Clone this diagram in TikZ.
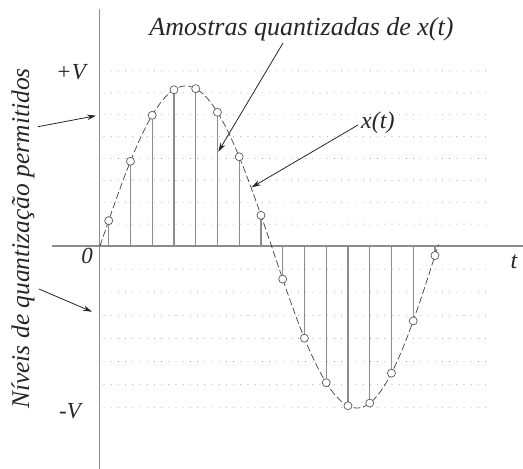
\documentclass[tikz,border=0pt]{standalone}
\usepackage{fontspec}
\setmainfont{Liberation Serif}
\usetikzlibrary{arrows.meta}
\pgfmathdeclarefunction{sig}{1}{%
  \pgfmathparse{(#1<271.5) ? (246-160*sin((#1-100)/171.5*180)) : ((#1<357) ? (246+162*sin((#1-271.5)/85.5*90)) : (246+162*sin(90+(#1-357)/81*90)))}%
}
\tikzset{
  axisline/.style={draw=black!45, line width=1.4pt},
  levelline/.style={draw=black!45, line width=0.9pt, line cap=round, dash pattern=on 0pt off 7.2pt},
  stemline/.style={draw=black!45, line width=1.2pt},
  sampledot/.style={circle, draw=black!65, fill=white, line width=0.7pt, minimum size=8pt, inner sep=0pt},
  sigcurve/.style={draw=black!75, line width=0.7pt, dash pattern=on 7pt off 3pt},
  pointer/.style={draw=black!85, line width=0.8pt, -{Stealth[length=9pt,width=5.5pt]}},
  lbl/.style={font=\fontsize{23}{27}\selectfont\itshape, text=black!85, inner sep=0pt},
}
\begin{document}
\begin{tikzpicture}[x=1pt,y=-1pt]
\useasboundingbox (0,0) rectangle (523,469);
% quantization levels
\foreach \k in {1,...,8} \draw[levelline] (104,{246-\k*21.875}) -- (489,{246-\k*21.875});
\foreach \k in {1,...,7} \draw[levelline] (104,{246+\k*23.1}) -- (489,{246+\k*23.1});
% axes
\draw[axisline] (52,246) -- (523,246);
\draw[axisline] (99.3,9) -- (99.3,469);
% stems
\foreach \k in {0,...,15} {
  \pgfmathsetmacro{\xs}{108.7+\k*21.75}
  \pgfmathsetmacro{\ys}{sig(\xs)}
  \draw[stemline] (\xs,246) -- (\xs,\ys);
}
% curve
\draw[sigcurve] plot[domain=100:438.5, samples=220, variable=\t] (\t,{sig(\t)});
% sample circles
\foreach \k in {0,...,15} {
  \pgfmathsetmacro{\xs}{108.7+\k*21.75}
  \pgfmathsetmacro{\ys}{sig(\xs)}
  \node[sampledot] (s\k) at (\xs,\ys) {};
}
% labels
\node[lbl, font=\fontsize{26}{30}\selectfont\itshape, anchor=base] (title) at (301.5,35) {Amostras quantizadas de x(t)};
\node[lbl, font=\fontsize{24}{28}\selectfont\itshape, anchor=base west] (xt) at (361,128) {x(t)};
\node[lbl, anchor=base east] (pv) at (86,79) {+V};
\node[lbl, anchor=base east] (mv) at (81,418) {-V};
\node[lbl, anchor=base] (zero) at (87,263) {0};
\node[lbl, font=\fontsize{24}{28}\selectfont\itshape, anchor=base] (tt) at (514,268) {t};
\node[lbl, font=\fontsize{25.5}{28}\selectfont\itshape, rotate=90, anchor=base] (ylab) at (29,238.5) {Níveis de quantização permitidos};
% arrows
\coordinate (a1s) at (283,43);
\coordinate (a1e) at (218.3,151.7);
\coordinate (a2s) at (358,125);
\coordinate (a2e) at (251.7,187.3);
\coordinate (a3s) at (38,126.7);
\coordinate (a3e) at (96,115.7);
\coordinate (a4s) at (39,289);
\coordinate (a4e) at (92,311.7);
\draw[pointer] (a1s) -- (a1e);
\draw[pointer] (a2s) -- (a2e);
\draw[pointer] (a3s) -- (a3e);
\draw[pointer] (a4s) -- (a4e);
\end{tikzpicture}
\end{document}
